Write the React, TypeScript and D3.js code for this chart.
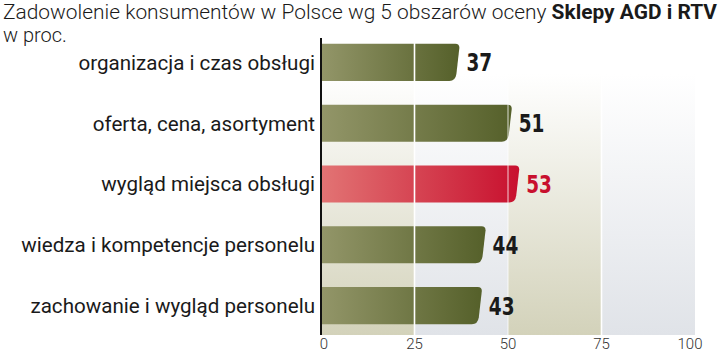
import * as d3 from "d3";
import { useRef, useEffect } from "react";

const categories = [
  "organizacja i czas obsługi",
  "oferta, cena, asortyment",
  "wygląd miejsca obsługi",
  "wiedza i kompetencje personelu",
  "zachowanie i wygląd personelu",
];
const values = [37, 51, 53, 44, 43];
const highlighted = [false, false, true, false, false];
const ticks = [0, 25, 50, 75, 100];
const bandStops = [0, 25, 50, 75, 100];

export default function App() {
  const svgRef = useRef(null);

  useEffect(() => {
    const width = 720;
    const height = 358;
    const svg = d3.select(svgRef.current).attr("width", width).attr("height", height);
    svg.selectAll("*").remove();

    const x = d3.scaleLinear().domain([0, 100]).range([321, 695]);
    const y = d3.scaleBand().domain(categories).range([32, 336]).paddingInner(0.39).paddingOuter(0.195);
    const plotTop = 38;
    const plotBottom = 335;

    const defs = svg.append("defs");
    const vgrad = (id: string, col: string) => {
      const g = defs.append("linearGradient").attr("id", id).attr("x1", 0).attr("y1", 0).attr("x2", 0).attr("y2", 1);
      g.append("stop").attr("offset", "0%").attr("stop-color", "#ffffff");
      g.append("stop").attr("offset", "12%").attr("stop-color", "#ffffff");
      g.append("stop").attr("offset", "100%").attr("stop-color", col);
    };
    vgrad("bgBeige", "#d3d2ba");
    vgrad("bgGray", "#e0e3e8");
    const hgrad = (id: string, c0: string, c1: string) => {
      const g = defs.append("linearGradient").attr("id", id).attr("x1", 0).attr("y1", 0).attr("x2", 1).attr("y2", 0);
      g.append("stop").attr("offset", "0%").attr("stop-color", c0);
      g.append("stop").attr("offset", "100%").attr("stop-color", c1);
    };
    hgrad("barOlive", "#939669", "#55602a");
    hgrad("barRed", "#e27474", "#c8102e");

    // background bands
    svg
      .append("g")
      .selectAll("rect")
      .data(d3.pairs(bandStops))
      .enter()
      .append("rect")
      .attr("x", (d) => x(d[0]))
      .attr("width", (d) => x(d[1]) - x(d[0]))
      .attr("y", plotTop)
      .attr("height", plotBottom - plotTop)
      .attr("fill", (_, i) => (i % 2 === 0 ? "url(#bgBeige)" : "url(#bgGray)"));

    // bars
    const barPath = (v: number, cat: string) => {
      const x0 = x(0);
      const x1 = x(v);
      const y0 = y(cat)!;
      const y1 = y0 + y.bandwidth();
      const p = d3.path();
      p.moveTo(x0, y0);
      p.lineTo(x1 - 4, y0);
      p.quadraticCurveTo(x1, y0, x1, y0 + 4);
      p.lineTo(x1 - 3, y1 - 7);
      p.quadraticCurveTo(x1 - 4, y1, x1 - 10, y1);
      p.lineTo(x0, y1);
      p.closePath();
      return p.toString();
    };

    svg
      .append("g")
      .selectAll("path")
      .data(values)
      .enter()
      .append("path")
      .attr("d", (d, i) => barPath(d, categories[i]))
      .attr("fill", (_, i) => (highlighted[i] ? "url(#barRed)" : "url(#barOlive)"));

    // white grid lines
    svg
      .append("g")
      .selectAll("line")
      .data([25, 50, 75])
      .enter()
      .append("line")
      .attr("x1", (d) => x(d))
      .attr("x2", (d) => x(d))
      .attr("y1", plotTop)
      .attr("y2", plotBottom)
      .attr("stroke", "#ffffff")
      .attr("stroke-width", (d) => (d === 50 ? 0.8 : 1.6));

    // axis line
    svg
      .append("line")
      .attr("x1", x(0))
      .attr("x2", x(0))
      .attr("y1", plotTop)
      .attr("y2", plotBottom)
      .attr("stroke", "#111")
      .attr("stroke-width", 2);

    // value labels (horizontally squeezed to look condensed)
    svg
      .append("g")
      .selectAll("text")
      .data(values)
      .enter()
      .append("text")
      .attr("transform", (d, i) => `translate(${x(d) + 7},${y(categories[i])! + y.bandwidth() / 2}) scale(0.82,1)`)
      .attr("dy", "0.36em")
      .attr("font-family", "'DejaVu Sans Condensed', 'DejaVu Sans', sans-serif")
      .attr("font-weight", "bold")
      .attr("font-size", 25)
      .attr("fill", (_, i) => (highlighted[i] ? "#c8102e" : "#1a1a1a"))
      .text((d) => d);

    // category labels
    svg
      .append("g")
      .selectAll("text")
      .data(categories)
      .enter()
      .append("text")
      .attr("x", 315)
      .attr("y", (d) => y(d)! + y.bandwidth() / 2)
      .attr("dy", "0.36em")
      .attr("text-anchor", "end")
      .attr("font-family", "Roboto, sans-serif")
      .attr("font-size", 20.6)
      .attr("fill", "#1a1a1a")
      .text((d) => d);

    // x ticks
    svg
      .append("g")
      .selectAll("text")
      .data(ticks)
      .enter()
      .append("text")
      .attr("x", (d) => (d === 100 ? x(d) - 5 : x(d) + (d === 0 ? 3 : 0)))
      .attr("y", 349)
      .attr("text-anchor", "middle")
      .attr("font-family", "Roboto, sans-serif")
      .attr("font-weight", 300)
      .attr("font-size", 15)
      .attr("fill", "#333")
      .text((d) => d);

    // title
    const title = svg
      .append("text")
      .attr("x", 3)
      .attr("y", 19)
      .attr("font-family", "Roboto, sans-serif")
      .attr("font-size", 21)
      .attr("fill", "#1a1a1a")
      .attr("textLength", 714)
      .attr("lengthAdjust", "spacingAndGlyphs");
    title.append("tspan").attr("font-weight", 300).text("Zadowolenie konsumentów w Polsce wg 5 obszarów oceny ");
    title.append("tspan").attr("font-weight", "bold").text("Sklepy AGD i RTV");

    svg
      .append("text")
      .attr("x", 3)
      .attr("y", 42)
      .attr("font-family", "Roboto, sans-serif")
      .attr("font-weight", 300)
      .attr("font-size", 20)
      .attr("fill", "#1a1a1a")
      .text("w proc.");
  }, []);

  return (
    <svg ref={svgRef} style={{ position: "absolute", left: 0, top: 0, background: "#fff" }} />
  );
}
